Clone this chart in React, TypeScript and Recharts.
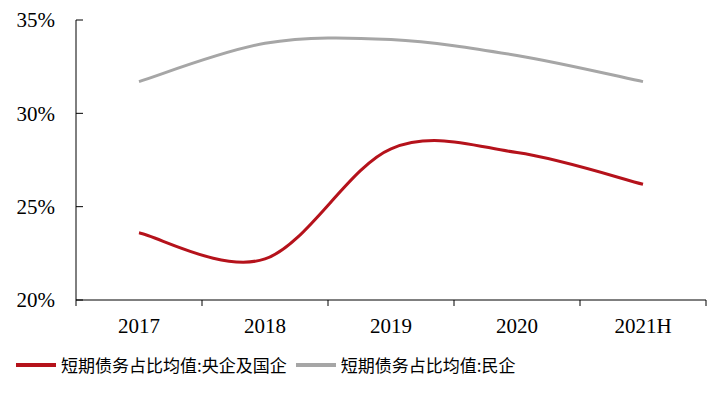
import React from 'react';
import { LineChart, Line, XAxis, YAxis, Legend } from 'recharts';

const years = ['2017', '2018', '2019', '2020', '2021H'];
const soeShare = [23.6, 22.2, 28.1, 27.9, 26.2];
const privateShare = [31.7, 33.75, 33.95, 33.1, 31.7];
const yTicks = [20, 25, 30, 35];

const soeName = '短期债务占比均值:央企及国企';
const privateName = '短期债务占比均值:民企';

const data = years.map((year, i) => ({ year, soe: soeShare[i], priv: privateShare[i] }));

document.body.style.margin = '0';

// Excel-style smoothed line (Catmull-Rom through every point)
const excelSmooth = (context: any) => {
  let pts: number[][] = [];
  return {
    areaStart() {},
    areaEnd() {},
    lineStart() {
      pts = [];
    },
    point(x: number, y: number) {
      pts.push([+x, +y]);
    },
    lineEnd() {
      if (!pts.length) return;
      context.moveTo(pts[0][0], pts[0][1]);
      for (let i = 0; i < pts.length - 1; i++) {
        const p0 = pts[i - 1] || pts[i];
        const p1 = pts[i];
        const p2 = pts[i + 1];
        const p3 = pts[i + 2] || pts[i + 1];
        context.bezierCurveTo(
          p1[0] + (p2[0] - p0[0]) / 6,
          p1[1] + (p2[1] - p0[1]) / 6,
          p2[0] - (p3[0] - p1[0]) / 6,
          p2[1] - (p3[1] - p1[1]) / 6,
          p2[0],
          p2[1]
        );
      }
    },
  };
};

const font = '"Liberation Serif", "Times New Roman", serif';

const XTick = (props: any) => {
  const { x, y, payload, index, width } = props;
  const half = width / years.length / 2;
  return (
    <g>
      <line x1={x - half} x2={x - half} y1={y - 8} y2={y - 2} stroke="#000" />
      {index === years.length - 1 && (
        <line x1={x + half} x2={x + half} y1={y - 8} y2={y - 2} stroke="#000" />
      )}
      <text x={x} y={y + 25} textAnchor="middle" fontFamily={font} fontSize={21} fill="#000">
        {payload.value}
      </text>
    </g>
  );
};

const LegendBox = () => (
  <div style={{ display: 'flex', alignItems: 'center', paddingLeft: 16, paddingTop: 12, fontFamily: '"Noto Sans CJK SC", sans-serif', fontSize: 17, color: '#000' }}>
    <span style={{ display: 'inline-block', width: 40, height: 4, background: '#B5121B', marginRight: 5 }} />
    <span>{soeName}</span>
    <span style={{ display: 'inline-block', width: 40, height: 4, background: '#A6A6A6', marginLeft: 9, marginRight: 5 }} />
    <span>{privateName}</span>
  </div>
);

export default function App() {
  return (
    <div style={{ width: 723, height: 397, background: '#fff' }}>
      <LineChart width={723} height={397} data={data} margin={{ top: 20, right: 17, left: 8, bottom: 5 }}>
        <XAxis
          dataKey="year"
          scale="band"
          height={40}
          stroke="#000"
          tickLine={false}
          tick={<XTick />}
          interval={0}
        />
        <YAxis
          width={68}
          domain={[20, 35]}
          ticks={yTicks}
          stroke="#000"
          tickSize={-7}
          tickMargin={28}
          tickFormatter={(v: number) => v + '%'}
          tick={{ fontFamily: font, fontSize: 21, fill: '#000' }}
        />
        <Legend verticalAlign="bottom" height={52} content={<LegendBox />} wrapperStyle={{ left: 0, width: 723 }} />
        <Line
          dataKey="soe"
          name={soeName}
          type={excelSmooth as any}
          stroke="#B5121B"
          strokeWidth={3}
          dot={false}
          isAnimationActive={false}
        />
        <Line
          dataKey="priv"
          name={privateName}
          type={excelSmooth as any}
          stroke="#A6A6A6"
          strokeWidth={3}
          dot={false}
          isAnimationActive={false}
        />
      </LineChart>
    </div>
  );
}
